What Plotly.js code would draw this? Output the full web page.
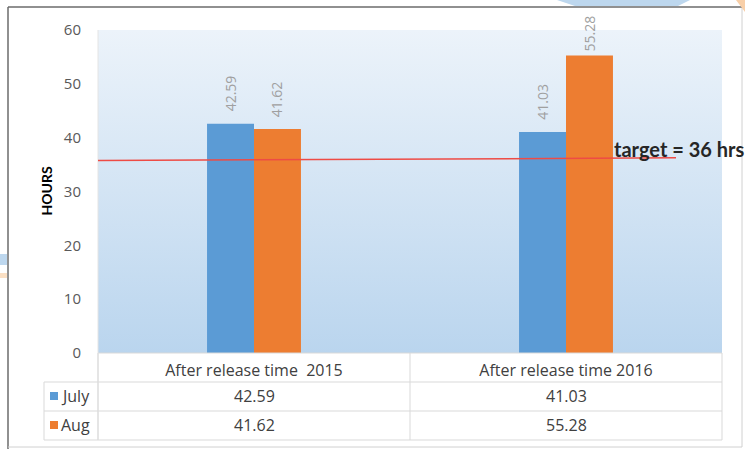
<!DOCTYPE html>
<html><head><meta charset="utf-8">
<script src="https://cdn.plot.ly/plotly-3.0.1.min.js"></script>
<style>html,body{margin:0;padding:0;background:#fff;}#chart{width:745px;height:449px;}</style>
</head><body><div id="chart"></div>
<script>
const categories = ['After release time 2015', 'After release time 2016'];
const categoryLabels = ['After release time\u00a0\u00a02015', 'After release time 2016'];
const seriesNames = ['July', 'Aug'];
const julyValues = [42.59, 41.03];
const augValues = [41.62, 55.28];
const targetValue = 36;
const targetLabel = 'target = 36 hrs';
const yTickValues = [0, 10, 20, 30, 40, 50, 60];
const yAxisTitle = 'HOURS';

const W = 745, H = 449, L = 98, R = 23, T = 30, B = 96;
const pw = W - L - R, ph = H - T - B;
const X = px => (px - L) / pw;
const Y = py => (H - B - py) / ph;
const BLUE = '#5b9bd5', ORANGE = '#ed7d31', GRID = '#d9d9d9';
const FONT = '"Open Sans", "Noto Sans", sans-serif';
const FONT2 = 'Lato, "Noto Sans", sans-serif';

const traces = [
  {type: 'bar', name: seriesNames[0], x: categories, y: julyValues, marker: {color: BLUE}, hoverinfo: 'skip'},
  {type: 'bar', name: seriesNames[1], x: categories, y: augValues, marker: {color: ORANGE}, hoverinfo: 'skip'}
];

const grad = '<svg xmlns="http://www.w3.org/2000/svg" width="100" height="100" preserveAspectRatio="none"><defs><linearGradient id="g" x1="0" y1="0" x2="0" y2="1"><stop offset="0" stop-color="#ecf3fa"/><stop offset="1" stop-color="#bad5ee"/></linearGradient></defs><rect width="100" height="100" fill="url(#g)"/></svg>';

const shapes = [];
const annotations = [];
const line = (x0, y0, x1, y1, color, w) => shapes.push({type: 'line', xref: 'paper', yref: 'paper', x0: X(x0), y0: Y(y0), x1: X(x1), y1: Y(y1), line: {color: color, width: w || 1}});

// outer frame
line(8, 7, 745, 7, '#6b6b6b', 1.5);
line(8, 7, 8, 449, '#6b6b6b', 1.5);
line(742, 8, 742, 447, '#d0d0d0', 1);
line(8, 447, 742, 447, '#d0d0d0', 1);
// slide decorations
shapes.push({type: 'path', xref: 'paper', yref: 'paper', path: `M ${X(557)} ${Y(0)} L ${X(690)} ${Y(0)} L ${X(678)} ${Y(6)} L ${X(575)} ${Y(6)} Z`, fillcolor: '#bdd7ee', line: {width: 0}});
shapes.push({type: 'path', xref: 'paper', yref: 'paper', path: `M ${X(736)} ${Y(0)} L ${X(745)} ${Y(0)} L ${X(745)} ${Y(12)} Z`, fillcolor: '#f8cfa8', line: {width: 0}});
shapes.push({type: 'rect', xref: 'paper', yref: 'paper', x0: X(0), x1: X(7), y0: Y(254), y1: Y(265), fillcolor: '#bdd7ee', line: {width: 0}});
shapes.push({type: 'rect', xref: 'paper', yref: 'paper', x0: X(0), x1: X(7), y0: Y(273), y1: Y(278), fillcolor: '#fbe0c4', line: {width: 0}});

// data table grid
line(L, 353, L + pw, 353, GRID);
line(44, 382, L + pw, 382, GRID);
line(44, 411, L + pw, 411, GRID);
line(44, 440, L + pw, 440, GRID);
line(44, 382, 44, 440, GRID);
line(L, T, L, 440, '#e4e4e4');
line(L, 353, L, 440, GRID);
line(L + pw / 2, 353, L + pw / 2, 440, GRID);
line(L + pw, 353, L + pw, 440, GRID);

// legend keys in table
[[seriesNames[0], BLUE, 396], [seriesNames[1], ORANGE, 425]].forEach(([nm, col, cy]) => {
  shapes.push({type: 'rect', xref: 'paper', yref: 'paper', x0: X(50), x1: X(58), y0: Y(cy - 4), y1: Y(cy + 4), fillcolor: col, line: {width: 0}});
  annotations.push({xref: 'paper', yref: 'paper', x: X(59), y: Y(cy), xanchor: 'left', yanchor: 'middle', text: nm, showarrow: false, font: {family: FONT, size: 16, color: '#404040'}});
});

// table values
[[julyValues, 396], [augValues, 425]].forEach(([vals, cy]) => {
  vals.forEach((v, i) => {
    annotations.push({xref: 'x', yref: 'paper', x: categories[i], y: Y(cy), xanchor: 'center', yanchor: 'middle', text: v.toFixed(2), showarrow: false, font: {family: FONT, size: 16, color: '#404040'}});
  });
});

// bar data labels (rotated)
const barW = pw / categories.length * 0.3 / 2;
[[julyValues, -barW / 2], [augValues, barW / 2]].forEach(([vals, dx]) => {
  vals.forEach((v, i) => {
    const topPx = T + (60 - v) / 60 * ph;
    const shift = Math.min(10, topPx - 53);
    annotations.push({xref: 'x', yref: 'y', x: categories[i], y: v, xshift: dx, yshift: shift, xanchor: 'center', yanchor: 'bottom', textangle: -90, text: v.toFixed(2), showarrow: false, font: {family: FONT, size: 14, color: '#a0a0a0'}});
  });
});

// target line and label
shapes.push({type: 'line', xref: 'paper', yref: 'y', x0: 0, x1: X(676), y0: targetValue - 0.25, y1: targetValue + 0.25, line: {color: '#ee4b45', width: 1.5}});
annotations.push({xref: 'paper', yref: 'y', x: X(612), y: targetValue, yshift: 10, xanchor: 'left', yanchor: 'middle', text: targetLabel, showarrow: false, font: {family: FONT2, size: 20, color: '#262626', weight: 'bold'}});

// y axis title
annotations.push({xref: 'paper', yref: 'paper', x: X(46), y: 0.5, xanchor: 'center', yanchor: 'middle', textangle: -90, text: '<b>' + yAxisTitle + '</b>', showarrow: false, font: {family: FONT2, size: 14, color: '#000'}});

const layout = {
  width: W, height: H,
  margin: {l: L, r: R, t: T, b: B},
  paper_bgcolor: '#ffffff', plot_bgcolor: 'rgba(0,0,0,0)',
  showlegend: false,
  barmode: 'group', bargap: 0.699, bargroupgap: 0,
  font: {family: FONT, color: '#404040'},
  xaxis: {type: 'category', tickvals: categories, ticktext: categoryLabels, showgrid: false, zeroline: false, showline: false,
    ticks: 'outside', ticklen: 3, tickcolor: 'rgba(0,0,0,0)', tickfont: {family: FONT, size: 16, color: '#404040'}, fixedrange: true},
  yaxis: {range: [0, 60], tickvals: yTickValues, showgrid: false, zeroline: false, showline: false,
    ticks: 'outside', ticklen: 13, tickcolor: 'rgba(0,0,0,0)', tickfont: {family: FONT, size: 15, color: '#595959'}, fixedrange: true},
  images: [{source: 'data:image/svg+xml;charset=utf-8,' + encodeURIComponent(grad), xref: 'paper', yref: 'paper', x: 0, y: 1, sizex: 1, sizey: 1, xanchor: 'left', yanchor: 'top', sizing: 'stretch', layer: 'below'}],
  shapes: shapes,
  annotations: annotations
};

Plotly.newPlot('chart', traces, layout, {displayModeBar: false, staticPlot: true});
</script></body></html>
